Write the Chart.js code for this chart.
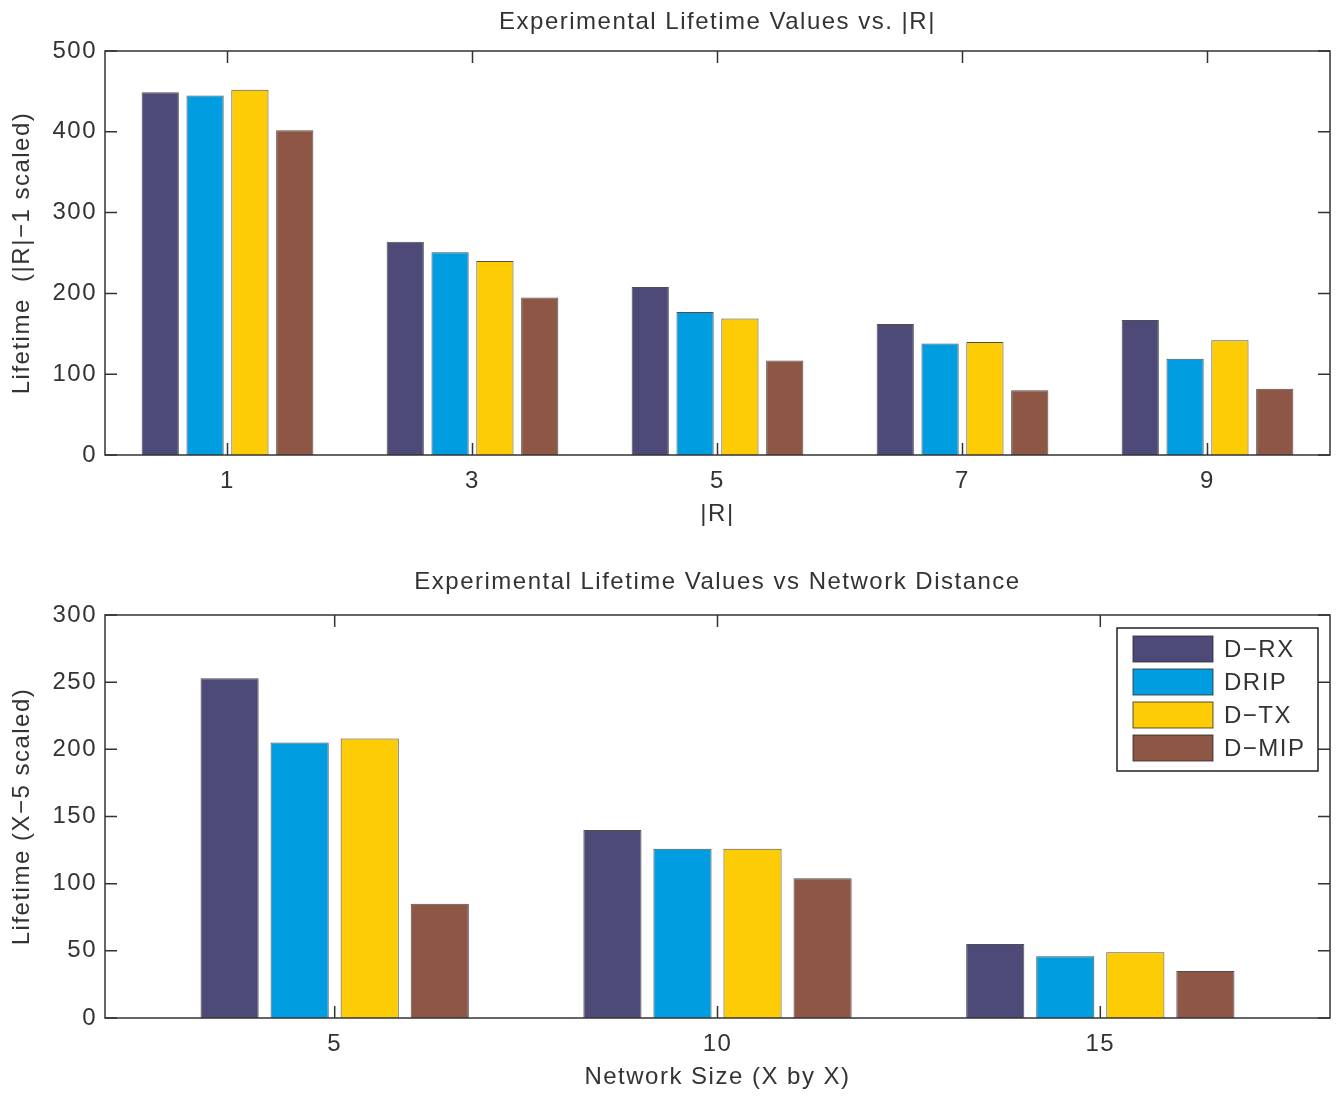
<!DOCTYPE html>
<html><head><meta charset="utf-8">
<script src="https://cdn.jsdelivr.net/npm/chart.js@4/dist/chart.umd.min.js"></script>
<style>
html,body{margin:0;padding:0;background:#fff;}
#wrap{position:relative;width:1342px;height:1096px;}
.c{position:absolute;left:0;width:1342px;height:548px;}
</style></head><body>
<div id="wrap">
<div class="c" style="top:0"><canvas id="c1" width="1342" height="548"></canvas></div>
<div class="c" style="top:548px"><canvas id="c2" width="1342" height="548"></canvas></div>
</div>
<script>
// ---- data ----
const seriesNames = ['D\u2212RX', 'DRIP', 'D\u2212TX', 'D\u2212MIP'];
const seriesColors = ['#4d4a78', '#009ee0', '#fdcc05', '#8e5645'];

const rCategories = [1, 3, 5, 7, 9];
const rDRX  = [449, 264, 208, 162, 167];
const rDRIP = [445, 251, 177, 138, 119];
const rDTX  = [452, 240, 169, 140, 142];
const rDMIP = [402, 195, 117, 80, 82];
const rYTicks = [0, 100, 200, 300, 400, 500];

const nCategories = [5, 10, 15];
const nDRX  = [253, 140, 55];
const nDRIP = [205, 126, 46];
const nDTX  = [208, 126, 49];
const nDMIP = [85, 104, 35];
const nYTicks = [0, 50, 100, 150, 200, 250, 300];

// ---- styling ----
const FAMILY = '"Liberation Sans", Arial, Helvetica, sans-serif';
const TXT = '#333';
const font = (s) => ({ family: FAMILY, size: s, weight: 'normal' });

const spacingPlugin = {
  id: 'spacing',
  beforeLayout(chart) { chart.ctx.letterSpacing = '1.5px'; },
  beforeDraw(chart) { chart.ctx.letterSpacing = '1.5px'; }
};

const boxPlugin = {
  id: 'matlabBox',
  afterDatasetsDraw(chart) {
    const { ctx, chartArea: a, scales: { x, y } } = chart;
    ctx.save();
    ctx.strokeStyle = '#333';
    ctx.lineWidth = 1.5;
    ctx.strokeRect(a.left, a.top, a.right - a.left, a.bottom - a.top);
    const L = 12;
    ctx.beginPath();
    y.ticks.forEach(t => {
      const p = y.getPixelForValue(t.value);
      ctx.moveTo(a.left, p); ctx.lineTo(a.left + L, p);
      ctx.moveTo(a.right, p); ctx.lineTo(a.right - L, p);
    });
    x.ticks.forEach(t => {
      const p = x.getPixelForValue(t.value);
      ctx.moveTo(p, a.bottom); ctx.lineTo(p, a.bottom - L);
      ctx.moveTo(p, a.top); ctx.lineTo(p, a.top + L);
    });
    ctx.stroke();
    ctx.restore();
  }
};

const legendPlugin = {
  id: 'boxLegend',
  afterDraw(chart, args, opts) {
    if (!opts || !opts.show) return;
    const { ctx, chartArea: a } = chart;
    const w = 201, h = 143;
    const bx = a.right - 12 - w, by = a.top + 13;
    ctx.save();
    ctx.letterSpacing = '1.5px';
    ctx.fillStyle = '#fff';
    ctx.fillRect(bx, by, w, h);
    ctx.strokeStyle = '#222';
    ctx.lineWidth = 1.5;
    ctx.strokeRect(bx, by, w, h);
    ctx.font = '24px ' + FAMILY;
    ctx.textBaseline = 'middle';
    ctx.textAlign = 'left';
    chart.data.datasets.forEach((ds, i) => {
      const sy = by + 8 + i * 33;
      ctx.fillStyle = ds.backgroundColor;
      ctx.fillRect(bx + 16, sy, 80, 26);
      ctx.strokeStyle = 'rgba(40,40,40,0.8)';
      ctx.lineWidth = 1;
      ctx.strokeRect(bx + 16, sy, 80, 26);
      ctx.fillStyle = TXT;
      ctx.fillText(ds.label, bx + 107, sy + 14);
    });
    ctx.restore();
  }
};

function makeChart(id, cfg) {
  const datasets = cfg.series.map((vals, i) => ({
    label: seriesNames[i],
    data: cfg.cats.map((c, j) => ({ x: c, y: vals[j] })),
    backgroundColor: seriesColors[i],
    borderColor: 'rgba(35,35,35,0.8)',
    borderWidth: 1,
    categoryPercentage: 0.732,
    barPercentage: 0.83
  }));
  return new Chart(document.getElementById(id), {
    type: 'bar',
    data: { datasets },
    plugins: [spacingPlugin, boxPlugin, legendPlugin],
    options: {
      responsive: false,
      animation: false,
      layout: { padding: { left: 0, right: 12, top: 0, bottom: 0 } },
      plugins: {
        legend: { display: false },
        tooltip: { enabled: false },
        title: {
          display: true, fullSize: false, text: cfg.title, font: font(24), color: TXT,
          padding: cfg.titlePad
        },
        boxLegend: { show: cfg.legend }
      },
      scales: {
        x: {
          type: 'linear', min: cfg.xMin, max: cfg.xMax, offset: false,
          afterBuildTicks: s => { s.ticks = cfg.cats.map(v => ({ value: v })); },
          grid: { display: false, drawTicks: false },
          border: { display: false },
          ticks: { padding: 12, font: font(24), color: TXT, maxRotation: 0, autoSkip: false },
          title: { display: true, text: cfg.xTitle, font: font(24), color: TXT, padding: { top: 0, bottom: cfg.xTitleBottom } },
          afterFit: s => { s.height = cfg.xHeight; }
        },
        y: {
          type: 'linear', min: cfg.yTicks[0], max: cfg.yTicks[cfg.yTicks.length - 1],
          afterBuildTicks: s => { s.ticks = cfg.yTicks.map(v => ({ value: v })); },
          grid: { display: false, drawTicks: false },
          border: { display: false },
          ticks: { padding: 8, font: font(24), color: TXT, autoSkip: false },
          title: { display: true, text: cfg.yTitle, font: font(24), color: TXT, padding: { top: 7.6, bottom: 0 } },
          afterFit: s => { s.width = 105; }
        }
      }
    }
  });
}

makeChart('c1', {
  cats: rCategories,
  series: [rDRX, rDRIP, rDTX, rDMIP],
  title: 'Experimental Lifetime Values vs. |R|',
  titlePad: { top: 8, bottom: 14.2 },
  xTitle: '|R|', xMin: 0, xMax: 10, xHeight: 93, xTitleBottom: 19.6,
  yTitle: 'Lifetime  (|R|\u22121 scaled)', yTicks: rYTicks,
  legend: false
});

makeChart('c2', {
  cats: nCategories,
  series: [nDRX, nDRIP, nDTX, nDMIP],
  title: 'Experimental Lifetime Values vs Network Distance',
  titlePad: { top: 19.6, bottom: 18.6 },
  xTitle: 'Network Size (X by X)', xMin: 2, xMax: 18, xHeight: 78, xTitleBottom: 4.6,
  yTitle: 'Lifetime (X\u22125 scaled)', yTicks: nYTicks,
  legend: true
});
</script>
</body></html>
